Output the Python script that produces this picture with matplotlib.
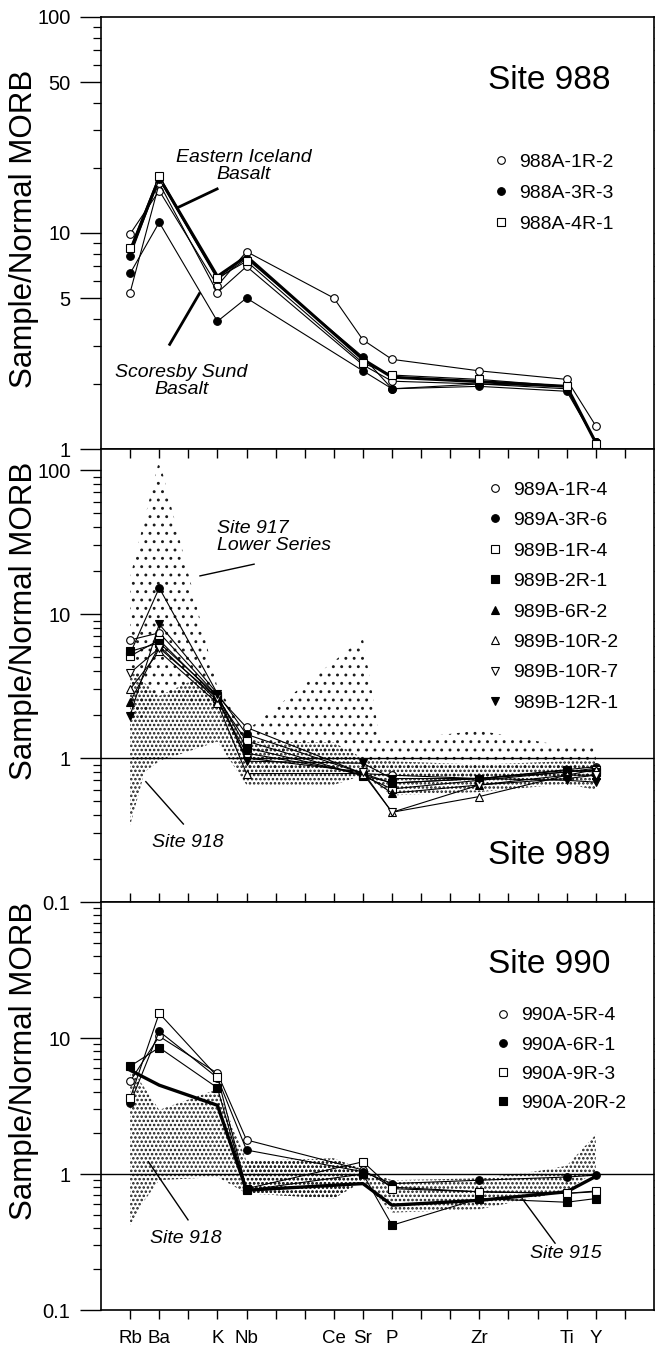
import numpy as np
import matplotlib
matplotlib.use('Agg')
from matplotlib import pyplot as plt
from matplotlib.lines import Line2D

plt.rcParams['font.family'] = ['Liberation Sans', 'DejaVu Sans']
plt.rcParams['hatch.linewidth'] = 1.2

# element slots along the x axis (0 is the left edge)
elements = ['', 'Rb', 'Ba', '', 'K', 'Nb', '', '', 'Ce', 'Sr', 'P',
            '', '', 'Zr', '', '', 'Ti', 'Y', '']
main_el = ['Rb', 'Ba', 'K', 'Nb', 'Sr', 'P', 'Zr', 'Ti', 'Y']
ce_el = ['Rb', 'Ba', 'K', 'Nb', 'Ce', 'Sr', 'P', 'Zr', 'Ti', 'Y']

# ---- Site 988 ----
s988_1a = [9.9, 15.7, 5.7, 8.2, 5.0, 3.2, 2.6, 2.3, 2.1, 1.28]   # with Ce
s988_1b = [5.3, 17.0, 5.3, 7.0, 2.45, 2.06, 2.0, 1.95, 1.08]
s988_3a = [7.8, 17.8, 6.1, 7.6, 2.67, 1.9, 1.95, 1.85, 1.08]
s988_3b = [6.5, 11.2, 3.9, 5.0, 2.3, 1.9, 2.0, 1.9, 1.08]
s988_4 = [8.5, 18.4, 6.2, 7.4, 2.5, 2.2, 2.1, 1.95, 1.06]
east_iceland = [8.2, 18.0, 6.3, 7.8, 2.6, 2.15, 2.05, 1.95, 1.07]

# ---- Site 989 ----
s989 = {
    '989A-1R-4': [6.6, 7.4, 2.7, 1.63, 0.78, 0.76, 0.72, 0.83, 0.87],
    '989A-3R-6': [5.3, 15.2, 2.8, 1.46, 0.78, 0.67, 0.72, 0.80, 0.85],
    '989B-1R-4': [5.1, 6.6, 2.6, 1.31, 0.75, 0.61, 0.70, 0.80, 0.83],
    '989B-2R-1': [5.5, 6.3, 2.7, 1.18, 0.76, 0.67, 0.72, 0.82, 0.80],
    '989B-6R-2': [2.45, 6.0, 2.5, 1.08, 0.78, 0.57, 0.65, 0.76, 0.76],
    '989B-10R-2': [3.0, 5.5, 2.4, 0.78, 0.78, 0.42, 0.54, 0.76, 0.83],
    '989B-10R-7': [3.9, 5.8, 2.6, 1.0, 0.80, 0.42, 0.65, 0.72, 0.76],
    '989B-12R-1': [1.97, 8.5, 2.8, 0.95, 0.92, 0.72, 0.72, 0.70, 0.68],
}
# Site 917 lower series / Site 918 fields
x917 = [1, 2, 4, 5, 9, 9.6, 13, 16, 17, 17, 16, 13, 10, 9, 5, 4, 2, 1]
v917 = [18, 118, 3.1, 1.55, 6.8, 1.3, 1.55, 1.2, 1.2,
        0.68, 0.72, 0.72, 0.78, 0.9, 0.76, 2.2, 2.7, 1.5]
x918m = [1, 2, 3.2, 4, 5, 8, 9, 10, 13, 16, 17,
         17, 16, 13, 10, 9, 8, 5, 4, 2, 1.5, 1]
v918m = [4.1, 2.7, 3.5, 2.7, 1.3, 1.28, 1.0, 0.95, 0.9, 0.95, 0.95,
         0.6, 0.66, 0.58, 0.55, 0.76, 0.65, 0.65, 1.3, 0.95, 0.8, 0.34]

# ---- Site 990 ----
s990 = {
    '990A-5R-4': [4.8, 10.3, 5.5, 1.78, 1.07, 0.80, 0.74, 0.72, 0.74],
    '990A-6R-1': [3.3, 11.2, 5.1, 1.5, 1.04, 0.85, 0.90, 0.95, 0.98],
    '990A-9R-3': [3.6, 15.2, 5.2, 0.78, 1.23, 0.78, 0.74, 0.72, 0.75],
    '990A-20R-2': [6.2, 8.5, 4.3, 0.76, 1.0, 0.42, 0.66, 0.62, 0.66],
}
site915_line = [5.8, 4.5, 3.2, 0.76, 0.85, 0.59, 0.64, 0.74, 0.96]
x918b = [1, 2, 4, 5, 8, 9, 9, 8, 5, 4, 2, 1.4, 1]
v918b = [6.2, 2.96, 4.2, 1.25, 1.3, 1.07, 0.9, 0.66, 0.72, 0.95, 0.9, 0.6, 0.42]
x915 = [5, 8, 9, 10, 13, 15, 16, 17, 17, 16, 13, 10, 9, 8, 5]
v915 = [1.25, 1.3, 1.08, 0.9, 0.93, 1.05, 1.15, 1.95,
        1.05, 0.75, 0.55, 0.52, 0.88, 0.66, 0.72]

# marker, face colour
sym = {'o': ('o', 'white'), 'of': ('o', 'black'), 's': ('s', 'white'),
       'sf': ('s', 'black'), '^f': ('^', 'black'), '^': ('^', 'white'),
       'v': ('v', 'white'), 'vf': ('v', 'black')}


def xs(names):
    return [elements.index(n) for n in names]


def series(ax, names, vals, key, lw=0.8, ms=5.5):
    m, fc = sym[key]
    ax.plot(xs(names), vals, color='k', lw=lw, marker=m, mfc=fc, mec='k',
            mew=0.8, ms=ms, zorder=4)


def legend(ax, labels, keys, anchor, spacing):
    handles = [Line2D([], [], ls='none', marker=sym[k][0], mfc=sym[k][1],
                      mec='k', mew=0.8, ms=5.5) for k in keys]
    ax.legend(handles, labels, loc='upper left', bbox_to_anchor=anchor,
              frameon=False, fontsize=14, handlelength=1.0,
              handletextpad=0.45, borderpad=0, borderaxespad=0,
              labelspacing=spacing)


def style(ax, ymin, ymax, majors, labels, minors, top_ticks, bottom_ticks):
    ax.set_yscale('log')
    ax.set_xlim(0, 19)
    ax.set_ylim(ymin, ymax)
    ax.set_yticks(majors, labels)
    ax.set_yticks(minors, minor=True)
    ax.yaxis.set_minor_formatter(plt.NullFormatter())
    ax.tick_params(axis='y', which='major', length=15, width=1, pad=7,
                   labelsize=14.5, right=True)
    ax.tick_params(axis='y', which='minor', length=6, width=0.9, right=True)
    ax.tick_params(axis='y', which='both', direction='out')
    ax.set_xticks(range(1, 19))
    ax.set_xticks([], minor=True)
    ax.tick_params(axis='x', which='major', length=6.5, width=1,
                   top=top_ticks, bottom=bottom_ticks, labelbottom=False)
    for sp in ax.spines.values():
        sp.set_linewidth(1.2)
    ax.set_ylabel('Sample/Normal MORB', fontsize=22.5)


fig = plt.figure(figsize=(6.55, 13.45), dpi=100)
W, H = 655.0, 1345.0
left, width = 101 / W, 553 / W
ax1 = fig.add_axes([left, (H - 449) / H, width, 432 / H])
ax2 = fig.add_axes([left, (H - 902) / H, width, 453 / H])
ax3 = fig.add_axes([left, (H - 1310) / H, width, 408 / H])

dec = lambda a, b: [m * 10.0 ** e for e in range(a, b) for m in range(2, 10)]

# ---------------- top panel ----------------
style(ax1, 1, 100, [1, 5, 10, 50, 100], ['1', '5', '10', '50', '100'],
      [v for v in dec(0, 2) if v not in (5, 50)], False, False)
ax1.yaxis.set_label_coords(-0.112, 0.51)
ax1.plot(xs(main_el), east_iceland, color='k', lw=2.2, zorder=3)
series(ax1, ce_el, s988_1a, 'o')
series(ax1, main_el, s988_1b, 'o')
series(ax1, main_el, s988_3a, 'of')
series(ax1, main_el, s988_3b, 'of')
series(ax1, main_el, s988_4, 's')
ax1.text(4.9, 20.5, 'Eastern Iceland\nBasalt', fontsize=14, style='italic',
         ha='center', va='center', linespacing=1.0)
ax1.plot([3.99, 2.63], [16.0, 13.1], color='k', lw=2.0)
ax1.text(2.77, 2.06, 'Scoresby Sund\nBasalt', fontsize=14, style='italic',
         ha='center', va='center', linespacing=1.0)
ax1.plot([2.36, 3.38], [3.05, 5.24], color='k', lw=2.0)
ax1.text(15.4, 51, 'Site 988', fontsize=24, ha='center', va='center')
legend(ax1, ['988A-1R-2', '988A-3R-3', '988A-4R-1'], ['o', 'of', 's'],
       (0.706, 0.685), 0.70)

# ---------------- middle panel ----------------
style(ax2, 0.1, 140, [0.1, 1, 10, 100], ['0.1', '1', '10', '100'],
      dec(-1, 2), True, False)
ax2.tick_params(axis='x', direction='in')
ax2.yaxis.set_label_coords(-0.112, 0.62)
with plt.rc_context({'hatch.linewidth': 0.9}):
    ax2.fill(x917, v917, facecolor='none', edgecolor='0.1', hatch='..',
             lw=0, zorder=1)
ax2.fill(x918m, v918m, facecolor='none', edgecolor='0.1', hatch='....',
         lw=0, zorder=2)
ax2.axhline(1, color='k', lw=1.0, zorder=3)
keys989 = ['o', 'of', 's', 'sf', '^f', '^', 'v', 'vf']
for (name, vals), k in zip(s989.items(), keys989):
    series(ax2, main_el, vals, k)
ax2.text(3.99, 34.3, 'Site 917\nLower Series', fontsize=14, style='italic',
         ha='left', va='center', linespacing=1.0)
ax2.plot([5.26, 3.40], [22.2, 18.4], color='k', lw=1.0)
ax2.text(2.97, 0.26, 'Site 918', fontsize=14, style='italic',
         ha='center', va='center')
ax2.plot([2.83, 1.54], [0.348, 0.685], color='k', lw=1.0)
ax2.text(15.4, 0.21, 'Site 989', fontsize=24, ha='center', va='center')
legend(ax2, list(s989.keys()), keys989, (0.695, 0.929), 0.66)

# ---------------- bottom panel ----------------
style(ax3, 0.1, 100, [0.1, 1, 10], ['0.1', '1', '10'],
      dec(-1, 2), True, True)
ax3.tick_params(axis='x', which='major', direction='in', top=True)
ax3.tick_params(axis='x', which='major', bottom=True, labelbottom=True,
                labelsize=13.5, pad=8)
ax3.xaxis.set_tick_params(which='major', direction='out')
ax3.set_xticks(range(1, 19), elements[1:])
ax3.yaxis.set_label_coords(-0.112, 0.61)
ax3.fill(x918b, v918b, facecolor='none', edgecolor='0.1', hatch='....',
         lw=0, zorder=1)
ax3.fill(x915, v915, facecolor='none', edgecolor='0.1', hatch='....',
         lw=0, zorder=1)
ax3.axhline(1, color='k', lw=1.0, zorder=3)
ax3.plot(xs(main_el), site915_line, color='k', lw=2.4, zorder=3)
keys990 = ['o', 'of', 's', 'sf']
for (name, vals), k in zip(s990.items(), keys990):
    series(ax3, main_el, vals, k)
ax3.text(2.92, 0.336, 'Site 918', fontsize=14, style='italic',
         ha='center', va='center')
ax3.plot([2.99, 1.63], [0.46, 1.23], color='k', lw=1.0)
ax3.text(15.98, 0.26, 'Site 915', fontsize=14, style='italic',
         ha='center', va='center')
ax3.plot([15.6, 14.47], [0.31, 0.66], color='k', lw=1.0)
ax3.text(15.4, 34.7, 'Site 990', fontsize=24, ha='center', va='center')
legend(ax3, list(s990.keys()), keys990, (0.709, 0.743), 0.60)

fig.savefig('out.png', dpi=100)
